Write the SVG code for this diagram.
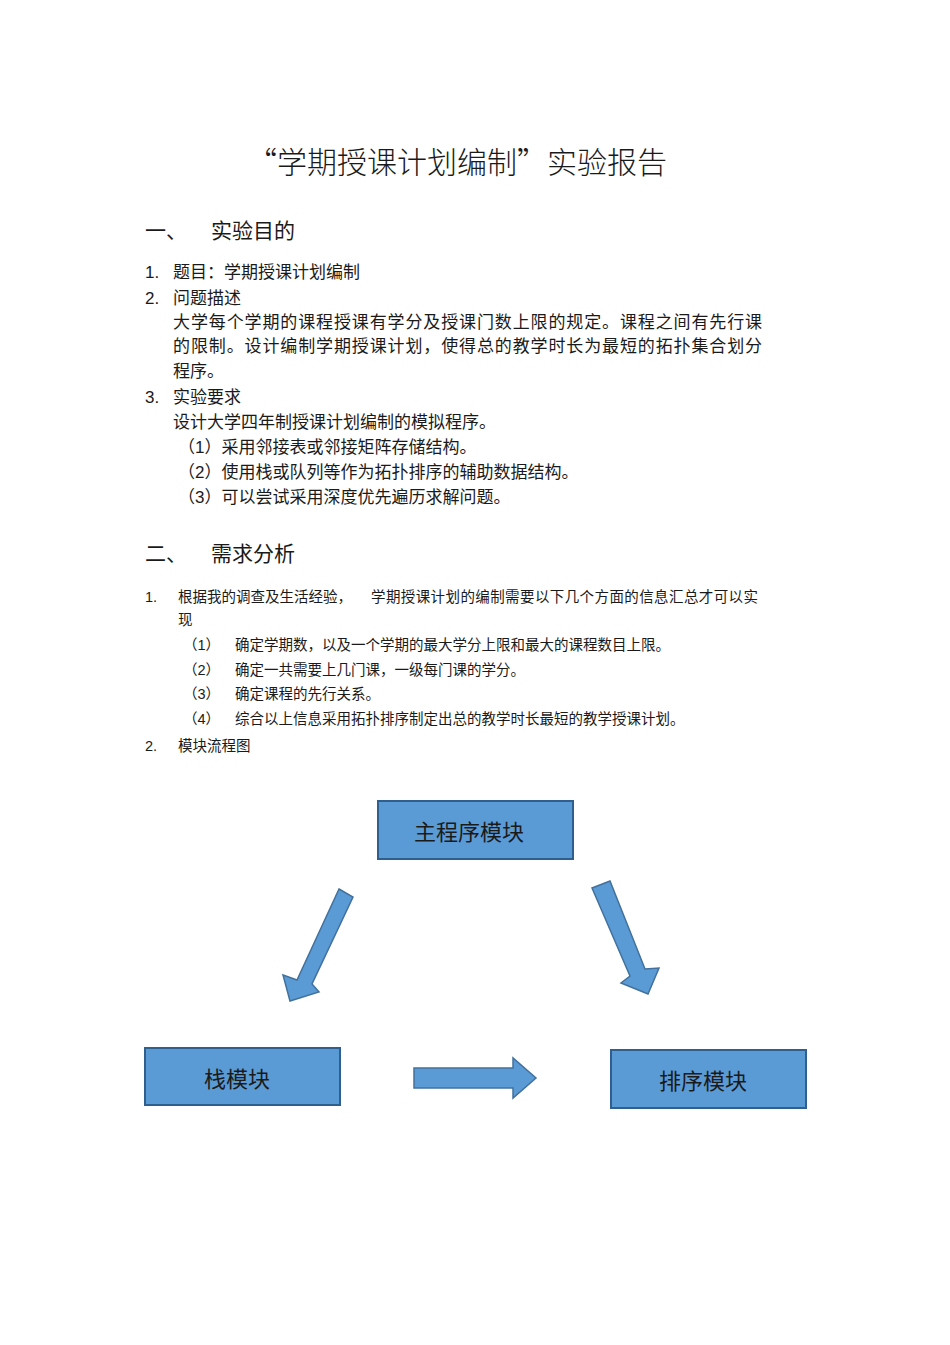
<svg xmlns="http://www.w3.org/2000/svg" width="950" height="1345" viewBox="0 0 950 1345">
<style>
text{font-family:"Liberation Sans","Noto Sans CJK SC",sans-serif;fill:#1a1a1a}
.t{font-size:30px;font-family:"Noto Sans CJK SC",sans-serif;font-weight:300}
.h{font-size:21px}
.b{font-size:17px}
.s{font-size:14.5px}
.box{fill:#5b9bd5;stroke:#2e5f8f;stroke-width:2}
.ar{fill:#5b9bd5;stroke:#41719c;stroke-width:1.5}
.lb{font-size:22px;text-anchor:middle}
</style>
<rect width="950" height="1345" fill="#fff"/>
<text class="t" x="457" y="173" text-anchor="middle">“学期授课计划编制”实验报告</text>
<text class="h" x="145" y="238">一、</text><text class="h" x="211" y="238">实验目的</text>
<text class="b" x="145" y="278">1.</text><text class="b" x="173" y="278">题目：学期授课计划编制</text>
<text class="b" x="145" y="304">2.</text><text class="b" x="173" y="304">问题描述</text>
<text class="b" x="173" y="328" textLength="589">大学每个学期的课程授课有学分及授课门数上限的规定。课程之间有先行课</text>
<text class="b" x="173" y="352" textLength="589">的限制。设计编制学期授课计划，使得总的教学时长为最短的拓扑集合划分</text>
<text class="b" x="173" y="377">程序。</text>
<text class="b" x="145" y="403">3.</text><text class="b" x="173" y="403">实验要求</text>
<text class="b" x="173" y="428">设计大学四年制授课计划编制的模拟程序。</text>
<text class="b" x="178" y="453">（1）采用邻接表或邻接矩阵存储结构。</text>
<text class="b" x="178" y="478">（2）使用栈或队列等作为拓扑排序的辅助数据结构。</text>
<text class="b" x="178" y="503">（3）可以尝试采用深度优先遍历求解问题。</text>
<text class="h" x="145" y="561">二、</text><text class="h" x="211" y="561">需求分析</text>
<text class="s" x="145" y="602">1.</text><text class="s" x="178" y="602">根据我的调查及生活经验，</text>
<text class="s" x="371" y="602" textLength="387">学期授课计划的编制需要以下几个方面的信息汇总才可以实</text>
<text class="s" x="178" y="625">现</text>
<text class="s" x="183" y="650">（1）</text><text class="s" x="235" y="650">确定学期数，以及一个学期的最大学分上限和最大的课程数目上限。</text>
<text class="s" x="183" y="675">（2）</text><text class="s" x="235" y="675">确定一共需要上几门课，一级每门课的学分。</text>
<text class="s" x="183" y="699">（3）</text><text class="s" x="235" y="699">确定课程的先行关系。</text>
<text class="s" x="183" y="724">（4）</text><text class="s" x="235" y="724">综合以上信息采用拓扑排序制定出总的教学时长最短的教学授课计划。</text>
<text class="s" x="145" y="751">2.</text><text class="s" x="178" y="751">模块流程图</text>
<g id="main"><rect class="box" x="378" y="801" width="195" height="58"/><text class="lb" x="469" y="840">主程序模块</text></g>
<g id="stack"><rect class="box" x="145" y="1048" width="195" height="57"/><text class="lb" x="237" y="1087">栈模块</text></g>
<g id="sort"><rect class="box" x="611" y="1050" width="195" height="58"/><text class="lb" x="703" y="1089">排序模块</text></g>
<g id="connectors">
<polygon class="ar" points="339,889 353,897 312,984 319,992 290,1001 283,975 297,980"/>
<polygon class="ar" points="592,888 610,881 645,969 659,968 648,994 621,983 630,976"/>
<polygon class="ar" points="414,1068 513,1068 513,1058 536,1078 513,1098 513,1088 414,1088"/>
</g>
</svg>
